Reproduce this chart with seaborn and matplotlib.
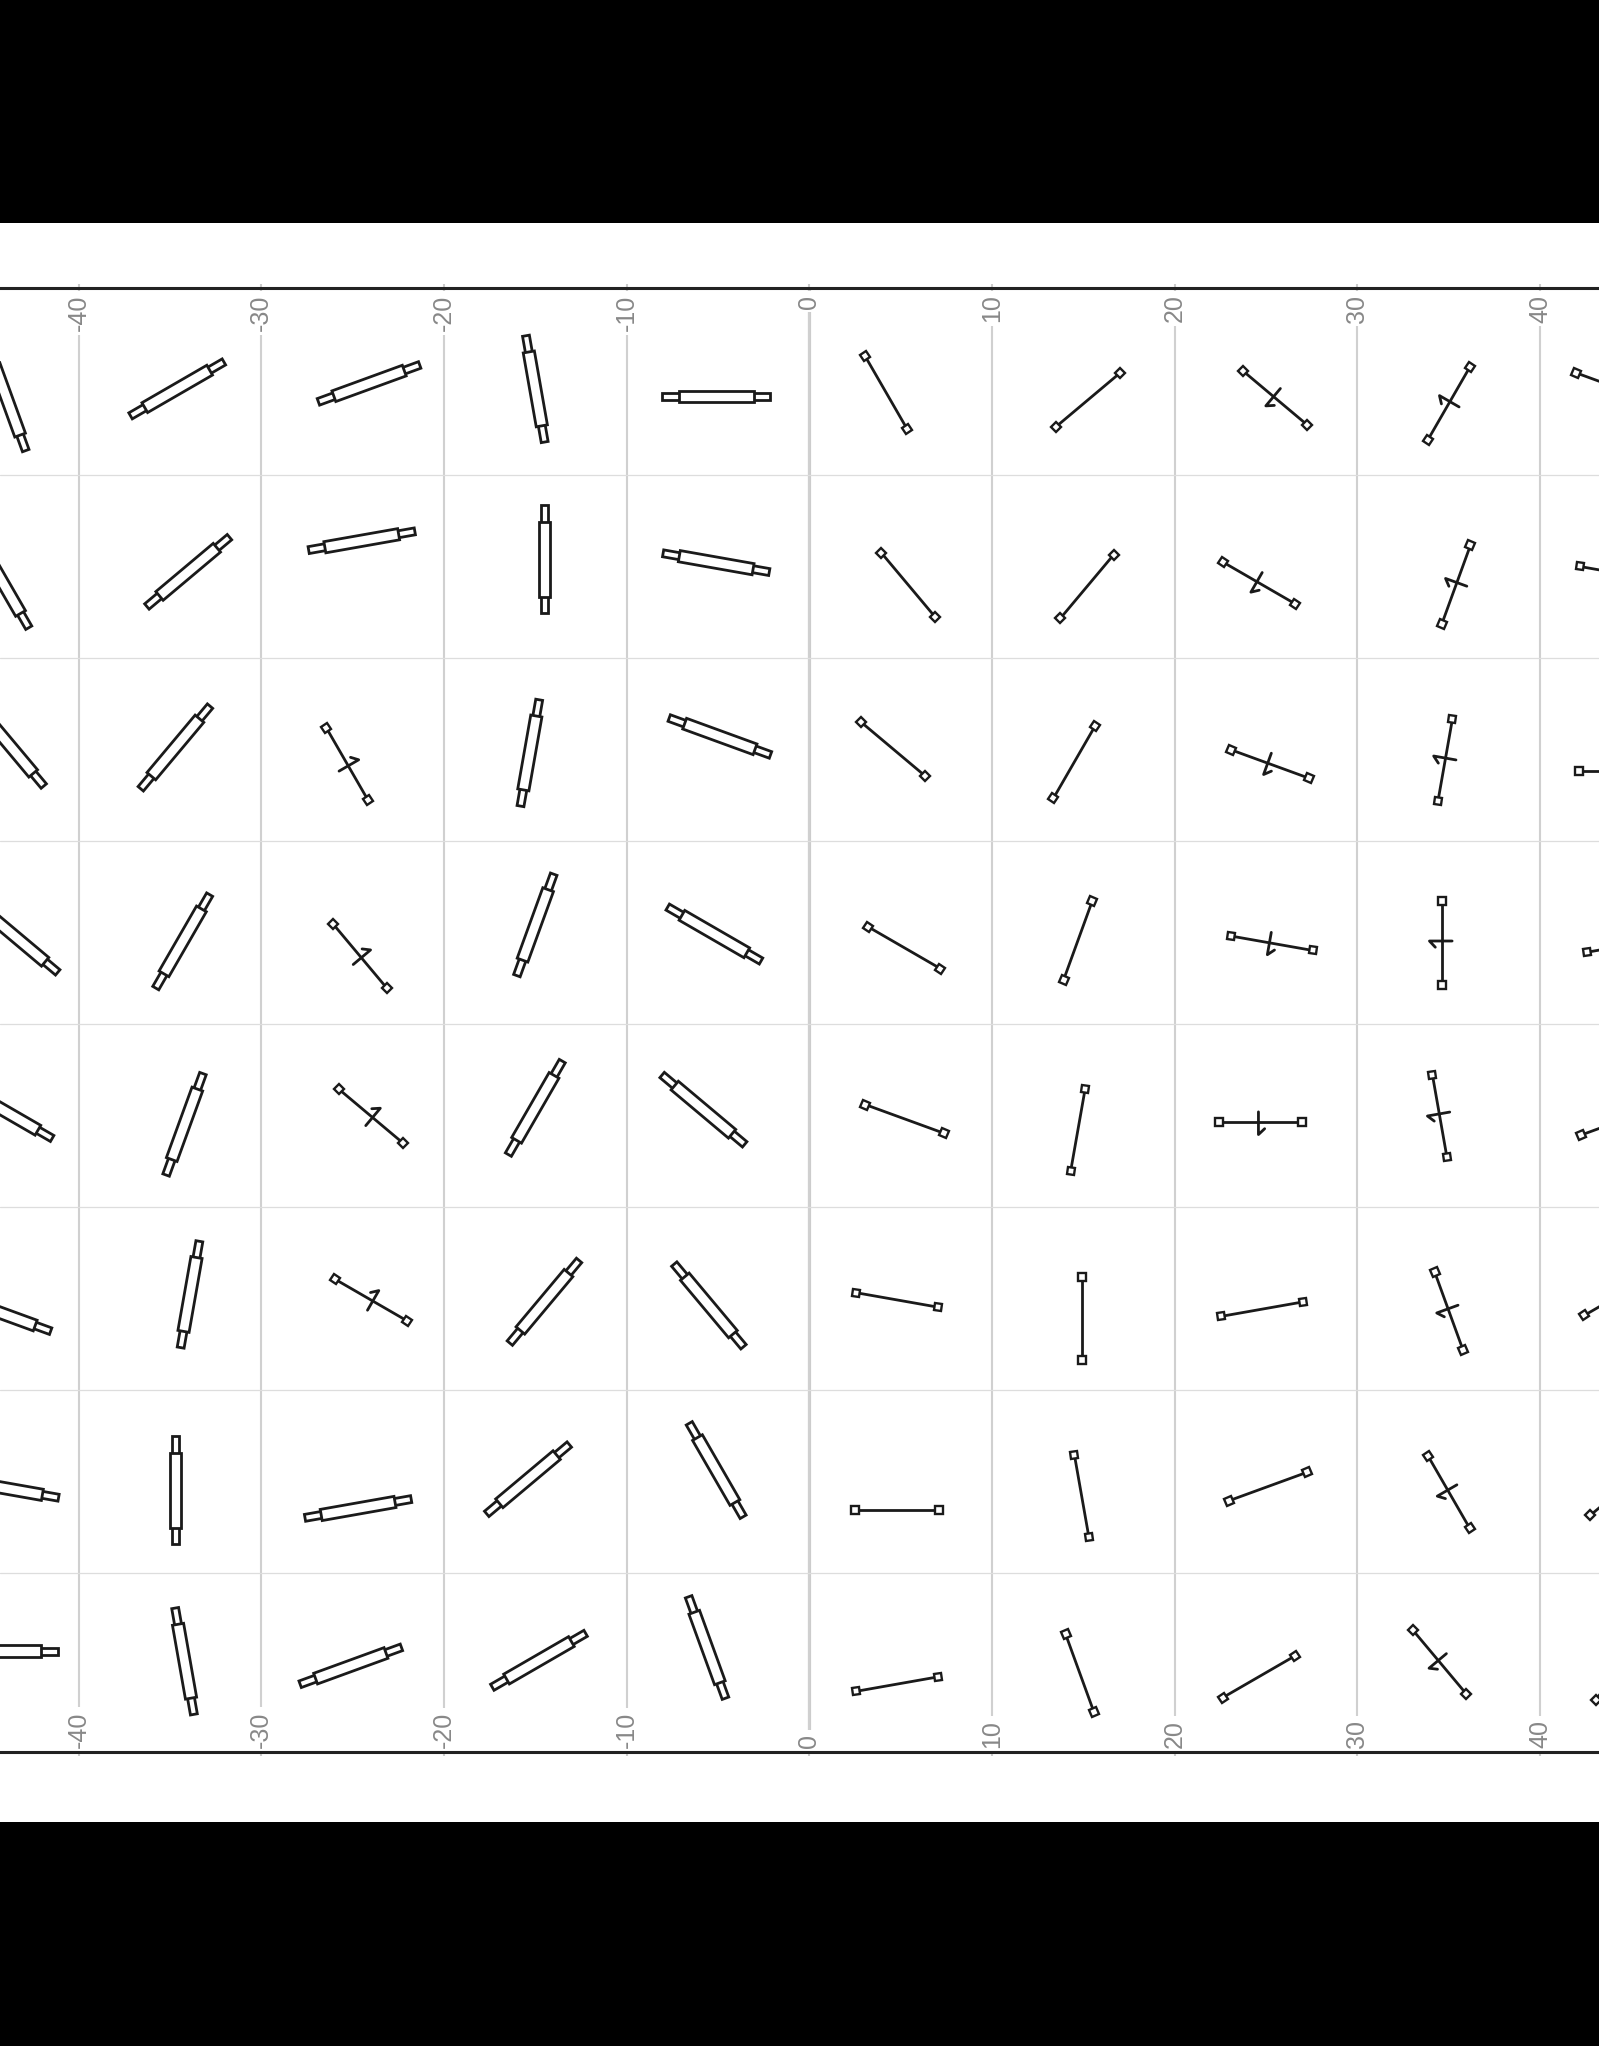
import numpy as np
import pandas as pd
import matplotlib
matplotlib.use("Agg")
import matplotlib.pyplot as plt
from matplotlib.patches import Polygon, Rectangle
from matplotlib.markers import MarkerStyle
from matplotlib.transforms import Affine2D
import seaborn as sns

# --- data (one row of glyphs per list, left to right) ---
GLYPH_X = [
    [-43.9, -34.6, -24.1, -15.0, -5.1, 4.2, 15.25, 25.5, 35.0, 44.1],
    [-44.2, -34.0, -24.5, -14.5, -5.1, 5.4, 15.2, 24.6, 35.4, 44.4],
    [-43.8, -34.7, -25.3, -15.3, -4.9, 4.6, 14.5, 25.2, 34.8, 44.4],
    [-43.4, -34.3, -24.6, -15.0, -5.2, 5.2, 14.7, 25.3, 34.6, 44.8],
    [-44.0, -34.2, -24.0, -15.0, -5.8, 5.2, 14.7, 24.7, 34.5, 44.4],
    [-44.3, -33.9, -24.0, -14.5, -5.5, 4.8, 14.9, 24.8, 35.0, 44.4],
    [-44.0, -34.7, -24.7, -15.4, -5.1, 4.8, 14.9, 25.1, 35.0, 44.5],
    [-44.1, -34.2, -25.1, -14.8, -5.6, 4.8, 14.8, 24.6, 34.5, 44.5],
]
GLYPH_Y = [
    [34.1, 34.7, 35.0, 34.7, 34.3, 34.5, 34.1, 34.2, 33.9, 34.8],
    [24.2, 24.7, 26.4, 25.4, 25.2, 24.0, 23.9, 24.1, 24.0, 24.6],
    [15.25, 15.1, 14.2, 14.8, 15.7, 15.0, 14.3, 14.2, 14.4, 13.8],
    [4.7, 4.5, 3.7, 5.4, 4.9, 4.15, 4.55, 4.4, 4.4, 4.3],
    [-4.8, -5.5, -5.05, -4.6, -4.7, -5.2, -5.8, -5.4, -5.05, -5.3],
    [-15.8, -14.8, -15.1, -15.2, -15.4, -15.1, -16.1, -15.6, -15.7, -14.8],
    [-25.4, -25.5, -26.5, -24.9, -24.4, -26.6, -25.8, -25.3, -25.6, -25.4],
    [-34.3, -34.85, -35.1, -34.8, -34.1, -36.1, -35.5, -35.7, -34.9, -35.2],
]
# direction in degrees, counter-clockwise from +x
GLYPH_ANGLE = [
    [-70, 30, 20, 100, 0, -60, 40, -40, 240, -20],
    [-60, 40, 10, 90, -10, -50, 50, -30, 250, -10],
    [-50, 50, 120, 80, -20, -40, 60, -20, 260, 0],
    [-40, 60, 130, 70, -30, -30, 70, -10, 270, 10],
    [-30, 70, 140, 60, -40, -20, 80, 0, 280, 20],
    [-20, 80, 150, 50, -50, -10, 90, 10, 290, 30],
    [-10, 90, 10, 40, -60, 0, 100, 20, 300, 40],
    [0, 100, 20, 30, -70, 10, 110, 30, 310, 50],
]
# P = pipe, L = plain line, T = line with cross mark
GLYPH_KIND = [
    "PPPPPLLTTT",
    "PPPPPLLTTT",
    "PPTPPLLTTT",
    "PPTPPLLTTT",
    "PPTPPLLTTT",
    "PPTPPLLLTT",
    "PPPPPLLLTT",
    "PPPPPLLLTT",
]
X_TICKS = [-40, -30, -20, -10, 0, 10, 20, 30, 40]
X_LABELS = ["-40", "-30", "-20", "-10", "0", "10", "20", "30", "40"]
Y_GRID = [-30, -20, -10, 0, 10, 20, 30]

INK = "#1a1a1a"
LW = 2.0

sns.set_theme(style="whitegrid")
plt.rcParams["font.family"] = ["Liberation Sans", "DejaVu Sans"]

fig = plt.figure(figsize=(15.99, 20.46), dpi=100, facecolor="black")
fig.patches.append(Rectangle((0, 0.1095), 1, 0.7815, transform=fig.transFigure,
                             facecolor="white", edgecolor="none", zorder=-5))
ax = fig.add_axes([0, 0.1438, 1, 0.7153])
ax.set_facecolor("white")

# build segments for stems / cross marks and polygons for pipes
seg_rows = []
ends = []
seg_id = 0
for r in range(len(GLYPH_X)):
    for c in range(len(GLYPH_X[r])):
        cx, cy = GLYPH_X[r][c], GLYPH_Y[r][c]
        th = np.deg2rad(GLYPH_ANGLE[r][c])
        d = np.array([np.cos(th), np.sin(th)])
        n = np.array([np.sin(th), -np.cos(th)])  # right-hand side
        ctr = np.array([cx, cy])
        kind = GLYPH_KIND[r][c]
        if kind == "P":
            for hl, hw, z in [(2.95, 0.19, 3), (2.05, 0.31, 4)]:
                pts = [ctr + d * hl + n * hw, ctr - d * hl + n * hw,
                       ctr - d * hl - n * hw, ctr + d * hl - n * hw]
                ax.add_patch(Polygon(pts, closed=True, facecolor="white",
                                     edgecolor=INK, linewidth=LW, zorder=z))
            continue
        a, b = ctr - d * 2.28, ctr + d * 2.28
        for p in (a, b):
            seg_rows.append((seg_id, p[0], p[1]))
        seg_id += 1
        ends.append((a, GLYPH_ANGLE[r][c]))
        ends.append((b, GLYPH_ANGLE[r][c]))
        if kind == "T":
            m = ctr - d * 0.12
            p1 = m - n * 0.58
            p2 = m + n * 0.66
            p3 = p2 + d * 0.34 - n * 0.32
            for p in (p1, p2, p3):
                seg_rows.append((seg_id, p[0], p[1]))
            seg_id += 1

segs = pd.DataFrame(seg_rows, columns=["seg", "x", "y"])
sns.lineplot(data=segs, x="x", y="y", units="seg", estimator=None, sort=False,
             color=INK, linewidth=LW, ax=ax, legend=False, zorder=3)

for p, ang in ends:
    mk = MarkerStyle("s", transform=Affine2D().rotate_deg(ang))
    ax.plot([p[0]], [p[1]], marker=mk, ms=5.2, mfc="white", mec=INK, mew=1.7,
            linestyle="none", zorder=5)

ax.set_xlim(-44.3, 43.22)
ax.set_ylim(-39.8, 40.2)
ax.set_xlabel("")
ax.set_ylabel("")
ax.set_xticks(X_TICKS)
ax.set_yticks(Y_GRID)
ax.tick_params(axis="x", labelbottom=False, labeltop=False, bottom=True, top=True,
               direction="inout", length=6, width=1.5, color="#cccccc")
ax.tick_params(axis="y", labelleft=False, left=False, length=0)
ax.set_axisbelow(True)
ax.grid(axis="x", color="#d0d0d0", linewidth=1.5)
ax.grid(axis="y", color="#dddddd", linewidth=0.9)
ax.axvline(0, color="#cccccc", linewidth=2.3, zorder=0.5)

for side in ["left", "right"]:
    ax.spines[side].set_visible(False)
for side in ["top", "bottom"]:
    ax.spines[side].set_visible(True)
    ax.spines[side].set_color("#222222")
    ax.spines[side].set_linewidth(2.2)

box = dict(boxstyle="square,pad=0.15", facecolor="white", edgecolor="none")
for v, lbl in zip(X_TICKS, X_LABELS):
    ax.annotate(lbl, xy=(v, 1), xycoords=ax.get_xaxis_transform(), xytext=(0, -4.5),
                textcoords="offset points", rotation=90, ha="center", va="top",
                fontsize=18, color="#888888", bbox=box, zorder=2)
    ax.annotate(lbl, xy=(v, 0), xycoords=ax.get_xaxis_transform(), xytext=(0, 3),
                textcoords="offset points", rotation=90, ha="center", va="bottom",
                fontsize=18, color="#888888", bbox=box, zorder=2)

fig.savefig("out.png", dpi=100, facecolor=fig.get_facecolor())
